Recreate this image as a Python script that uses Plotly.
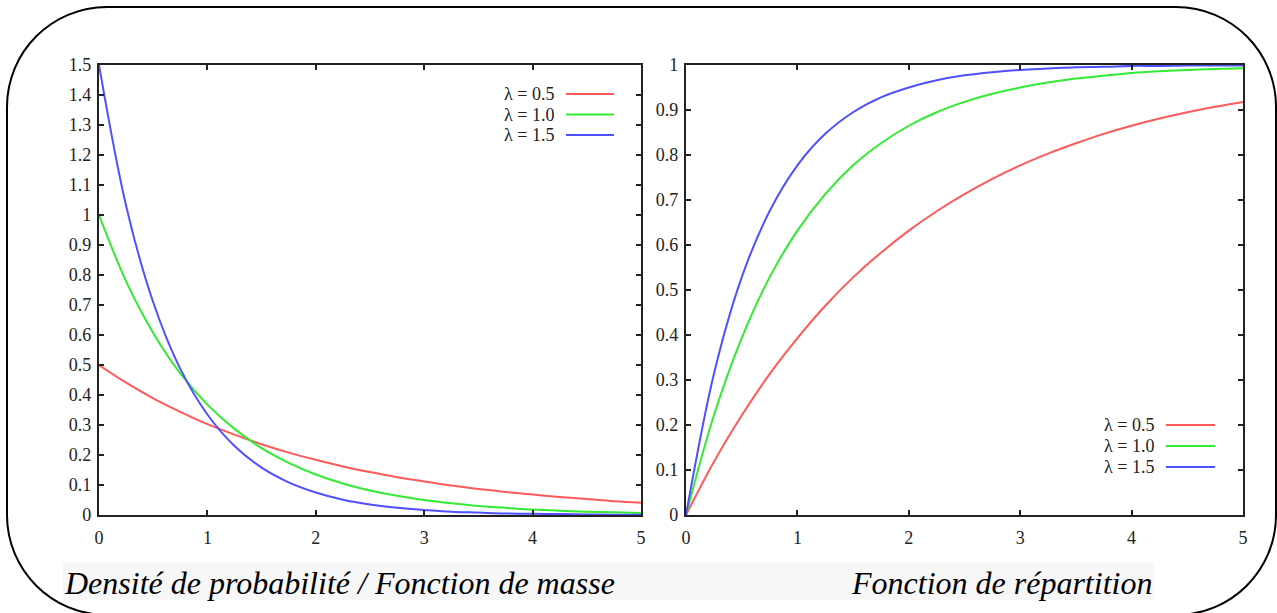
import plotly.graph_objects as go

W, H = 1277, 613

x_vals = [0, 0.25, 0.5, 0.75, 1, 1.25, 1.5, 1.75, 2, 2.25, 2.5, 2.75, 3,
          3.25, 3.5, 3.75, 4, 4.25, 4.5, 4.75, 5]

pdf_05 = [0.500, 0.441, 0.389, 0.344, 0.303, 0.268, 0.236, 0.208, 0.184, 0.162, 0.143,
          0.126, 0.112, 0.098, 0.087, 0.077, 0.068, 0.060, 0.053, 0.046, 0.041]
pdf_10 = [1.000, 0.779, 0.607, 0.472, 0.368, 0.287, 0.223, 0.174, 0.135, 0.105, 0.082,
          0.064, 0.050, 0.039, 0.030, 0.024, 0.018, 0.014, 0.011, 0.009, 0.007]
pdf_15 = [1.500, 1.031, 0.709, 0.487, 0.335, 0.230, 0.158, 0.109, 0.075, 0.051, 0.035,
          0.024, 0.017, 0.011, 0.008, 0.005, 0.004, 0.003, 0.002, 0.001, 0.001]

cdf_05 = [0.000, 0.118, 0.221, 0.313, 0.393, 0.465, 0.528, 0.583, 0.632, 0.675, 0.713,
          0.747, 0.777, 0.803, 0.826, 0.847, 0.865, 0.881, 0.895, 0.907, 0.918]
cdf_10 = [0.000, 0.221, 0.393, 0.528, 0.632, 0.713, 0.777, 0.826, 0.865, 0.895, 0.918,
          0.936, 0.950, 0.961, 0.970, 0.976, 0.982, 0.986, 0.989, 0.991, 0.993]
cdf_15 = [0.000, 0.313, 0.528, 0.675, 0.777, 0.847, 0.895, 0.928, 0.950, 0.966, 0.977,
          0.984, 0.989, 0.992, 0.995, 0.996, 0.998, 0.998, 0.999, 0.999, 0.999]

series_labels = ["λ = 0.5", "λ = 1.0", "λ = 1.5"]
colors = ["rgb(255,90,90)", "rgb(50,235,50)", "rgb(80,80,255)"]
captions = ["Densité de probabilité / Fonction de masse", "Fonction de répartition"]

SERIF = "Liberation Serif, Times New Roman, Times, serif"


def px(x):
    return x / W


def py(y):
    return 1 - y / H


fig = go.Figure()
for ys, lab, c in zip([pdf_05, pdf_10, pdf_15], series_labels, colors):
    fig.add_trace(go.Scatter(x=x_vals, y=ys, mode="lines", name=lab,
                             line=dict(color=c, width=2, shape="spline"),
                             xaxis="x", yaxis="y", showlegend=False))
for ys, lab, c in zip([cdf_05, cdf_10, cdf_15], series_labels, colors):
    fig.add_trace(go.Scatter(x=x_vals, y=ys, mode="lines", name=lab,
                             line=dict(color=c, width=2, shape="spline"),
                             xaxis="x2", yaxis="y2", showlegend=False))

tickfont = dict(family=SERIF, size=18, color="#222")
common = dict(showgrid=False, zeroline=False, showline=True, linewidth=2.4,
              linecolor="#222", ticks="inside", ticklen=5, tickwidth=1.5,
              tickcolor="#222", mirror="ticks", tickfont=tickfont)

ydom = [py(515), py(65)]
fig.update_layout(
    width=W, height=H,
    margin=dict(l=0, r=0, t=0, b=0, autoexpand=False),
    showlegend=False,
    font=dict(family=SERIF),
    paper_bgcolor="white", plot_bgcolor="white",
    xaxis=dict(domain=[px(99), px(641)], range=[0, 5], dtick=1, anchor="y",
               ticklabelstandoff=5, **common),
    yaxis=dict(domain=ydom, range=[0, 1.5], dtick=0.1, anchor="x",
               ticklabelstandoff=2, **common),
    xaxis2=dict(domain=[px(686), px(1243)], range=[0, 5], dtick=1, anchor="y2",
                ticklabelstandoff=5, **common),
    yaxis2=dict(domain=ydom, range=[0, 1], dtick=0.1, anchor="x2",
                ticklabelstandoff=2, **common),
)

shapes = []
annotations = []

# caption band
shapes.append(dict(type="rect", xref="paper", yref="paper",
                   x0=px(63), x1=px(1154), y0=py(600), y1=py(563),
                   fillcolor="#f7f7f7", line=dict(width=0), layer="below"))

# rounded border
L, T, R, B, r = 7, 7, 1276, 615, 100
k = 0.5523 * r


def P(x, y):
    return f"{px(x):.5f},{py(y):.5f}"


path = (f"M {P(L + r, T)} L {P(R - r, T)} "
        f"C {P(R - r + k, T)} {P(R, T + r - k)} {P(R, T + r)} "
        f"L {P(R, B - r)} "
        f"C {P(R, B - r + k)} {P(R - r + k, B)} {P(R - r, B)} "
        f"L {P(L + r, B)} "
        f"C {P(L + r - k, B)} {P(L, B - r + k)} {P(L, B - r)} "
        f"L {P(L, T + r)} "
        f"C {P(L, T + r - k)} {P(L + r - k, T)} {P(L + r, T)} Z")
shapes.append(dict(type="path", xref="paper", yref="paper", path=path,
                   line=dict(color="black", width=2)))

# legends
legend_pos = [(556, 566, 614, [94, 114.5, 135]), (1156, 1166, 1215, [425, 446, 467])]
for tx, l0, l1, rows in legend_pos:
    for lab, c, yy in zip(series_labels, colors, rows):
        annotations.append(dict(xref="paper", yref="paper", x=px(tx), y=py(yy),
                                xanchor="right", yanchor="middle", text=lab,
                                showarrow=False,
                                font=dict(family=SERIF, size=18, color="#222")))
        shapes.append(dict(type="line", xref="paper", yref="paper",
                           x0=px(l0), x1=px(l1), y0=py(yy), y1=py(yy),
                           line=dict(color=c, width=2)))

# captions
annotations.append(dict(xref="paper", yref="paper", x=px(62), y=py(583),
                        xanchor="left", yanchor="middle", text=captions[0],
                        showarrow=False,
                        font=dict(family=SERIF, size=32, color="black", style="italic")))
annotations.append(dict(xref="paper", yref="paper", x=px(1154), y=py(583),
                        xanchor="right", yanchor="middle", text=captions[1],
                        showarrow=False,
                        font=dict(family=SERIF, size=32, color="black", style="italic")))

fig.update_layout(shapes=shapes, annotations=annotations)
fig.write_html("out.html",
               post_script="document.body.style.margin='0';document.body.style.padding='0';")
